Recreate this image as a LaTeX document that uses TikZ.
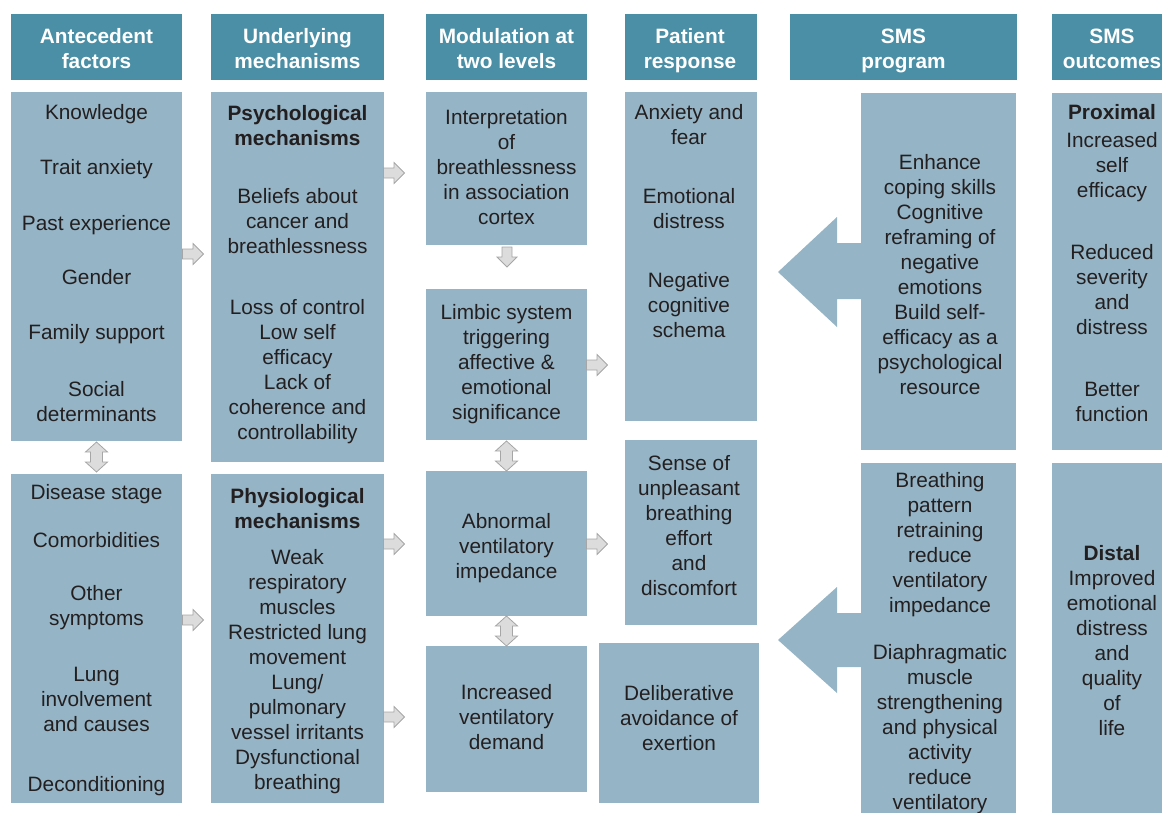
\documentclass[tikz,border=0pt]{standalone}
\usepackage{fontspec}
\setmainfont{Liberation Sans}
\definecolor{headc}{HTML}{4A8FA6}
\definecolor{panelc}{HTML}{95B4C5}
\definecolor{inkc}{HTML}{231F20}
\definecolor{arrfill}{HTML}{DCDCDC}
\definecolor{arrline}{HTML}{A6A6A6}
% rectangle node from two corners: name, x1, y1, x2, y2, style
\newcommand\panelbox[6]{%
  \node[#6,minimum width={(#4)-(#2)},minimum height={(#5)-(#3)}]
    (#1) at ({((#2)+(#4))/2},{((#3)+(#5))/2}) {};}
% small grey block arrows
\newcommand\rightarr[3]{%
  \draw[smallarr,shift={(#2,#3)}] (-10.5,-5) -- (0,-5) -- (0,-10.5) -- (10.5,0)
    -- (0,10.5) -- (0,5) -- (-10.5,5) -- cycle;
  \coordinate (#1) at (#2,#3);}
\newcommand\downarr[3]{%
  \draw[smallarr,shift={(#2,#3)}] (-5,-10) -- (5,-10) -- (5,0) -- (10,0)
    -- (0,10) -- (-10,0) -- (-5,0) -- cycle;
  \coordinate (#1) at (#2,#3);}
\newcommand\vdblarr[3]{%
  \draw[smallarr,shift={(#2,#3)}] (0,-15) -- (11,-5) -- (6,-5) -- (6,5) -- (11,5)
    -- (0,15) -- (-11,5) -- (-6,5) -- (-6,-5) -- (-11,-5) -- cycle;
  \coordinate (#1) at (#2,#3);}
\begin{document}
\begin{tikzpicture}[x=1pt,y=-1pt,
  hdr/.style={fill=headc,draw=none,inner sep=0,outer sep=0},
  pnl/.style={fill=panelc,draw=none,inner sep=0,outer sep=0},
  % text nodes are placed by the baseline of their last line
  htxt/.style={anchor=base,align=center,inner sep=0,text=white,
    font=\fontsize{20.8}{25}\selectfont\bfseries},
  txt/.style={anchor=base,align=center,inner sep=0,text=inkc,
    font=\fontsize{20.8}{25}\selectfont},
  btxt/.style={txt,font=\fontsize{20.8}{25}\selectfont\bfseries},
  smallarr/.style={fill=arrfill,draw=arrline,line width=0.8pt,line join=miter},
  bigarr/.style={fill=panelc,draw=none}]
\useasboundingbox (0,0) rectangle (1162,812);

% column headers
\panelbox{h1}{11}{14}{182}{80}{hdr}
\panelbox{h2}{211}{14}{384}{80}{hdr}
\panelbox{h3}{426}{14}{587}{80}{hdr}
\panelbox{h4}{625}{14}{757}{80}{hdr}
\panelbox{h5}{790}{14}{1017}{80}{hdr}
\panelbox{h6}{1052}{14}{1175}{80}{hdr}
\node[htxt] (ht1) at (96.5,68) {Antecedent\\factors};
\node[htxt] (ht2) at (297.5,68) {Underlying\\mechanisms};
\node[htxt] (ht3) at (506.5,68) {Modulation at\\two levels};
\node[htxt] (ht4) at (690,68) {Patient\\response};
\node[htxt] (ht5) at (903.5,68) {SMS\\program};
\node[htxt] (ht6) at (1112,68) {SMS\\outcomes};

% panels
\panelbox{a1}{11}{92}{182}{441}{pnl}
\panelbox{a2}{11}{474}{182}{803}{pnl}
\panelbox{m1}{211}{92}{384}{462}{pnl}
\panelbox{m2}{211}{474}{384}{803}{pnl}
\panelbox{l1}{426}{92}{587}{245}{pnl}
\panelbox{l2}{426}{289}{587}{440}{pnl}
\panelbox{l3}{426}{471}{587}{616}{pnl}
\panelbox{l4}{426}{646}{587}{792}{pnl}
\panelbox{r1}{625}{92}{757}{421}{pnl}
\panelbox{r2}{625}{440}{757}{625}{pnl}
\panelbox{r3}{599}{643}{759}{803}{pnl}
\panelbox{s1}{861}{93}{1016}{450}{pnl}
\panelbox{s2}{861}{463}{1016}{820}{pnl}
\panelbox{o1}{1052}{93}{1175}{450}{pnl}
\panelbox{o2}{1052}{463}{1175}{820}{pnl}

% large arrows from the SMS program panels
\fill[bigarr] (s1.west |- 0,243) -- (837,243) -- (837,217) -- (778,272)
  -- (837,327) -- (837,299) -- (s1.west |- 0,299) -- cycle;
\fill[bigarr] (s2.west |- 0,613) -- (837,613) -- (837,587) -- (778,640)
  -- (837,693) -- (837,667) -- (s2.west |- 0,667) -- cycle;

% small connecting arrows
\rightarr{c1}{193}{254}
\rightarr{c2}{193}{620}
\rightarr{c3}{394}{173}
\rightarr{c4}{394}{544}
\rightarr{c5}{394}{717}
\rightarr{c6}{597}{365}
\rightarr{c7}{597}{544}
\downarr{c8}{507}{257}
\vdblarr{c9}{96.5}{457}
\vdblarr{c10}{506.5}{456}
\vdblarr{c11}{506.5}{631}

% antecedent factors
\node[txt] (t1) at (96.5,119) {Knowledge};
\node[txt] (t2) at (96.5,174) {Trait anxiety};
\node[txt] (t3) at (96.5,230) {Past experience};
\node[txt] (t4) at (96.5,284) {Gender};
\node[txt] (t5) at (96.5,339) {Family support};
\node[txt] (t6) at (96.5,421) {Social\\determinants};
\node[txt] (t7) at (96.5,499) {Disease stage};
\node[txt] (t8) at (96.5,547) {Comorbidities};
\node[txt] (t9) at (96.5,625) {Other\\symptoms};
\node[txt] (t10) at (96.5,731) {Lung\\involvement\\and causes};
\node[txt] (t11) at (96.5,791) {Deconditioning};

% underlying mechanisms
\node[btxt] (u1) at (297.5,145) {Psychological\\mechanisms};
\node[txt] (u2) at (297.5,253) {Beliefs about\\cancer and\\breathlessness};
\node[txt] (u3) at (297.5,439) {Loss of control\\Low self\\efficacy\\Lack of\\coherence and\\controllability};
\node[btxt] (u4) at (297.5,528) {Physiological\\mechanisms};
\node[txt] (u5) at (297.5,789) {Weak\\respiratory\\muscles\\Restricted lung\\movement\\Lung/\\pulmonary\\vessel irritants\\Dysfunctional\\breathing};

% modulation
\node[txt] (v1) at (506.5,224) {Interpretation\\of\\breathlessness\\in association\\cortex};
\node[txt] (v2) at (506.5,419) {Limbic system\\triggering\\affective \&\\emotional\\significance};
\node[txt] (v3) at (506.5,578) {Abnormal\\ventilatory\\impedance};
\node[txt] (v4) at (506.5,749) {Increased\\ventilatory\\demand};

% patient response
\node[txt] (p1) at (689,144) {Anxiety and\\fear};
\node[txt] (p2) at (689,228) {Emotional\\distress};
\node[txt] (p3) at (689,337) {Negative\\cognitive\\schema};
\node[txt] (p4) at (689,595) {Sense of\\unpleasant\\breathing\\effort\\and\\discomfort};
\node[txt] (p5) at (679,750) {Deliberative\\avoidance of\\exertion};

% SMS program
\node[txt] (g1) at (940,394) {Enhance\\coping skills\\Cognitive\\reframing of\\negative\\emotions\\Build self-\\efficacy as a\\psychological\\resource};
\node[txt] (g2) at (940,612) {Breathing\\pattern\\retraining\\reduce\\ventilatory\\impedance};
\node[txt] (g3) at (940,809) {Diaphragmatic\\muscle\\strengthening\\and physical\\activity\\reduce\\ventilatory};

% SMS outcomes
\node[btxt] (q1) at (1112,119) {Proximal};
\node[txt] (q2) at (1112,197) {Increased\\self\\efficacy};
\node[txt] (q3) at (1112,334) {Reduced\\severity\\and\\distress};
\node[txt] (q4) at (1112,421) {Better\\function};
\node[btxt] (q5) at (1112,560) {Distal};
\node[txt] (q6) at (1112,735) {Improved\\emotional\\distress\\and\\quality\\of\\life};
\end{tikzpicture}
\end{document}
